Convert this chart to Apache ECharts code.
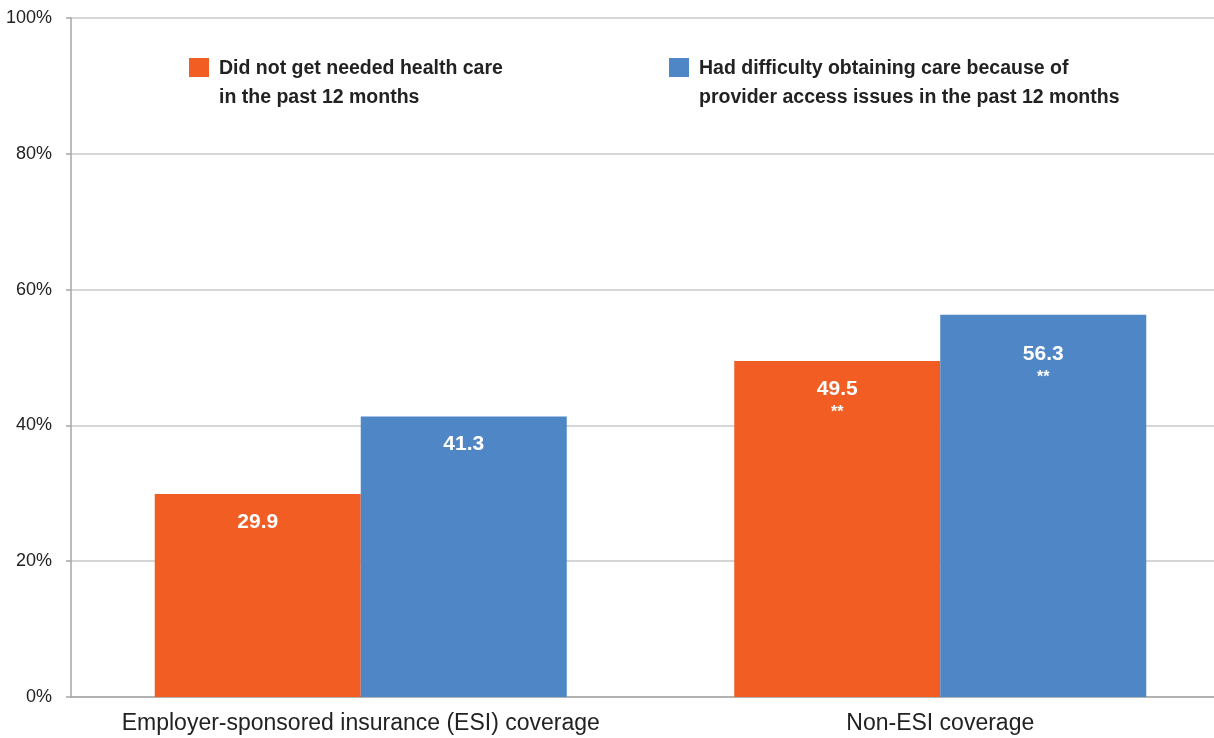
<!DOCTYPE html>
<html>
<head>
<meta charset="utf-8">
<script src="https://cdn.jsdelivr.net/npm/echarts@6/dist/echarts.min.js"></script>
<style>html,body{margin:0;padding:0;background:#fff;overflow:hidden;width:1214px;height:738px}#c{width:1230px;height:738px}</style>
</head>
<body>
<div id="c"></div>
<script>
const categories = ['Employer-sponsored insurance (ESI) coverage', 'Non-ESI coverage'];
const seriesNames = ['Did not get needed health care\nin the past 12 months', 'Had difficulty obtaining care because of\nprovider access issues in the past 12 months'];
const didNotGetCare = [29.9, 49.5];
const providerAccess = [41.3, 56.3];
const significance = [['', '**'], ['', '**']];
const yTicks = [0, 20, 40, 60, 80, 100];

const FONT = '"Liberation Sans", Arial, sans-serif';
const chart = echarts.init(document.getElementById('c'));

function labelFmt(sIdx) {
  return function (p) {
    const star = significance[sIdx][p.dataIndex];
    return '{v|' + p.value.toFixed(1) + '}' + (star ? '\n{s|' + star + '}' : '');
  };
}
const rich = {
  v: { color: '#fff', fontFamily: FONT, fontWeight: 'bold', fontSize: 21, lineHeight: 24 },
  s: { color: '#fff', fontFamily: FONT, fontWeight: 'bold', fontSize: 16, lineHeight: 24 }
};
const legendText = {
  fontFamily: FONT, fontWeight: 'bold', fontSize: 19.5, lineHeight: 29, color: '#222',
  rich: {
    e: { fontSize: 10, lineHeight: 31 },
    t: { fontFamily: FONT, fontWeight: 'bold', fontSize: 19.5, lineHeight: 29, color: '#222', padding: [0, 0, 0, 5] }
  }
};
function legendFmt(name) {
  return '{e| }\n' + name.split('\n').map(function (l) { return '{t|' + l + '}'; }).join('\n');
}

chart.setOption({
  animation: false,
  grid: { left: 71, right: 0, top: 18, bottom: 41, containLabel: false },
  legend: [
    { data: [seriesNames[0]], left: 189, top: 23, padding: 0, itemWidth: 20, itemHeight: 19, itemGap: 0, selectedMode: false,
      icon: 'rect', formatter: legendFmt, textStyle: legendText },
    { data: [seriesNames[1]], left: 669, top: 23, padding: 0, itemWidth: 20, itemHeight: 19, itemGap: 0, selectedMode: false,
      icon: 'rect', formatter: legendFmt, textStyle: legendText }
  ],
  xAxis: {
    type: 'category',
    data: categories,
    axisLine: { lineStyle: { color: '#a6a6a6', width: 1.5 } },
    axisTick: { show: false },
    axisLabel: { fontFamily: FONT, fontSize: 23, color: '#222', margin: 15, interval: 0 }
  },
  yAxis: {
    type: 'value',
    min: 0, max: 100, interval: 20,
    axisLine: { show: true, lineStyle: { color: '#a6a6a6', width: 1.5 } },
    axisTick: { show: true, length: 5, lineStyle: { color: '#a6a6a6', width: 1.5 } },
    splitLine: { lineStyle: { color: '#c8c8c8', width: 1.5 } },
    axisLabel: {
      fontFamily: FONT, fontSize: 18, color: '#222', margin: 19,
      formatter: function (v) { return yTicks.indexOf(v) >= 0 ? v + '%' : ''; }
    }
  },
  series: [
    {
      name: seriesNames[0], type: 'bar', barWidth: 206, barGap: '0%',
      itemStyle: { color: '#F15D22' },
      data: didNotGetCare,
      label: { show: true, position: 'insideTop', distance: 16, formatter: labelFmt(0), rich: rich }
    },
    {
      name: seriesNames[1], type: 'bar', barWidth: 206, barGap: '0%',
      itemStyle: { color: '#4E86C6' },
      data: providerAccess.map(function (v, i) {
        return i === 1 ? { value: v, label: { distance: 27 } } : v;
      }),
      label: { show: true, position: 'insideTop', distance: 16, formatter: labelFmt(1), rich: rich }
    }
  ]
});
</script>
</body>
</html>
